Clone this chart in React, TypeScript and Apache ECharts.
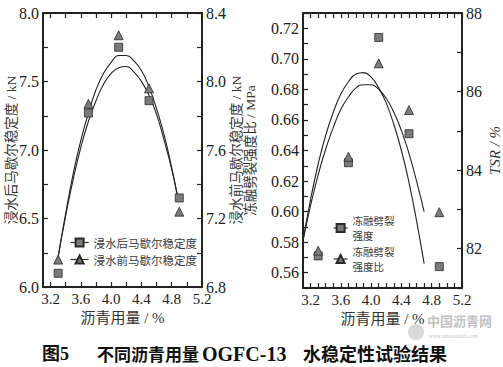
import React, { useEffect, useRef } from 'react';
import * as echarts from 'echarts';

// ---- Left panel: Marshall stability ----
const dosage = [3.3, 3.7, 4.1, 4.5, 4.9];
const stabilityAfter = [6.1, 7.27, 7.75, 7.36, 6.65]; // kN, left axis (squares)
const stabilityBefore = [6.96, 7.87, 8.27, 7.96, 7.24]; // kN, right axis (triangles)
const fitX1 = [3.3, 3.4, 3.5, 3.6, 3.7, 3.8, 3.9, 4.0, 4.1, 4.2, 4.3, 4.4, 4.5, 4.6, 4.7, 4.8, 4.87];
const fitUpper1 = [6.22, 6.54, 6.83, 7.07, 7.27, 7.44, 7.56, 7.64, 7.69, 7.69, 7.65, 7.58, 7.46, 7.3, 7.11, 6.87, 6.68];
const fitLower1 = [6.22, 6.52, 6.79, 7.02, 7.21, 7.36, 7.48, 7.56, 7.6, 7.61, 7.57, 7.5, 7.4, 7.26, 7.07, 6.86, 6.68];

// ---- Right panel: freeze-thaw splitting ----
const splitStrength = [0.571, 0.632, 0.714, 0.651, 0.564]; // MPa, left axis (squares)
const tsr = [81.95, 84.34, 86.72, 85.53, 82.93]; // %, right axis (triangles)
const fitX2 = [3.1, 3.2, 3.3, 3.4, 3.5, 3.6, 3.7, 3.8, 3.9, 4.0, 4.1, 4.2, 4.3, 4.4, 4.5, 4.6, 4.7];
const fitUpper2 = [0.581, 0.608, 0.631, 0.65, 0.665, 0.677, 0.685, 0.69, 0.691, 0.688, 0.681, 0.671, 0.657, 0.64, 0.619, 0.594, 0.566];
const fitLower2 = [0.581, 0.604, 0.624, 0.641, 0.655, 0.667, 0.675, 0.681, 0.683, 0.683, 0.68, 0.674, 0.665, 0.653, 0.638, 0.62, 0.6];

// ---- Ticks ----
const xTicksLeft = [3.2, 3.4, 3.6, 3.8, 4.0, 4.2, 4.4, 4.6, 4.8, 5.0, 5.2];
const xTicksRight = [3.2, 3.3, 3.4, 3.5, 3.6, 3.7, 3.8, 3.9, 4.0, 4.1, 4.2, 4.3, 4.4, 4.5, 4.6, 4.7, 4.8, 4.9, 5.0, 5.1, 5.2];
const xLabels = [3.2, 3.6, 4.0, 4.4, 4.8, 5.2];

const names = {
  after: '浸水后马歇尔稳定度',
  before: '浸水前马歇尔稳定度',
  strength: '冻融劈裂强度',
  ratio: '冻融劈裂强度比',
};
// legend text of the right panel is wrapped after the first four characters
const wrap = (s: string) => s.slice(0, 4) + '\n' + s.slice(4);

const ink = '#222';
const serif = '"Liberation Serif", "Times New Roman", serif';
const mixed = '"Liberation Serif", "Noto Sans CJK SC", serif';
const cjk = '"Noto Sans CJK SC", sans-serif';

const pair = (xs: number[], ys: number[]) => xs.map((x, i) => [x, ys[i]]);

function xAxisPair(gridIndex: number, ticks: number[]) {
  const base = {
    gridIndex,
    type: 'value',
    min: 3.1,
    max: 5.2,
    splitLine: { show: false },
    axisLine: { show: true, onZero: false, lineStyle: { color: ink, width: 2 } },
    axisTick: { show: true, inside: true, length: 5, customValues: ticks, lineStyle: { color: ink, width: 1.2 } },
  };
  return [
    {
      ...base,
      position: 'bottom',
      axisLabel: {
        show: true,
        customValues: xLabels,
        formatter: (v: number) => v.toFixed(1),
        fontSize: 15,
        fontFamily: serif,
        color: ink,
        margin: 4,
      },
      name: '沥青用量 / %',
      nameLocation: 'middle',
      nameGap: 23,
      nameMoveOverlap: false,
      nameTextStyle: { fontSize: 15, fontFamily: mixed, color: '#333' },
    },
    { ...base, position: 'top', axisLabel: { show: false } },
  ];
}

const yCommon = {
  type: 'value',
  splitLine: { show: false },
  axisLine: { show: true, onZero: false, lineStyle: { color: ink, width: 2 } },
  axisTick: { show: true, inside: true, length: 5, lineStyle: { color: ink, width: 1.2 } },
  nameLocation: 'middle',
  nameRotate: 90,
  nameMoveOverlap: false,
};
const yLabel = { fontSize: 16, fontFamily: serif, color: ink, margin: 4 };
const yName = { fontSize: 13.5, fontFamily: mixed, color: '#333' };

const markerStyle = { color: '#7b7b7b', borderColor: '#2a2a2a', borderWidth: 0.8 };
const legendLine = { color: '#333', width: 1.2, opacity: 1, type: 'solid' };
const legendText = { fontSize: 11.5, fontFamily: cjk, color: '#3a3a3a' };

function wrappedLegend(name: string, top: number) {
  return {
    data: [name],
    orient: 'vertical',
    left: 333,
    top,
    padding: 0,
    itemWidth: 14,
    itemHeight: 10,
    selectedMode: false,
    formatter: (n: string) => wrap(n),
    // top padding (one line) pushes the two-line block down so its first line sits on the icon
    textStyle: { ...legendText, fontSize: 10.5, lineHeight: 15, padding: [15, 0, 0, 0] },
    lineStyle: legendLine,
  };
}

export default function App() {
  const ref = useRef<HTMLDivElement>(null);
  useEffect(() => {
    if (!ref.current) return;
    const chart = echarts.init(ref.current, null, { renderer: 'svg' });
    const option: any = {
      animation: false,
      backgroundColor: '#fff',
      grid: [
        { left: 43, top: 13, width: 159, height: 274 },
        { left: 303, top: 13, width: 159, height: 275 },
      ],
      xAxis: [...xAxisPair(0, xTicksLeft), ...xAxisPair(1, xTicksRight)],
      yAxis: [
        {
          ...yCommon,
          gridIndex: 0,
          position: 'left',
          min: 6,
          max: 8,
          interval: 0.5,
          minorTick: { show: true, splitNumber: 2, length: 5, lineStyle: { color: ink, width: 1.2 } },
          axisLabel: { ...yLabel, formatter: (v: number) => v.toFixed(1) },
          name: names.after + ' / kN',
          nameGap: 25,
          nameTextStyle: yName,
        },
        {
          ...yCommon,
          gridIndex: 0,
          position: 'right',
          min: 6.8,
          max: 8.4,
          interval: 0.4,
          minorTick: { show: true, splitNumber: 2, length: 5, lineStyle: { color: ink, width: 1.2 } },
          axisLabel: { ...yLabel, formatter: (v: number) => v.toFixed(1) },
          name: names.before + ' / kN',
          nameGap: 28,
          nameTextStyle: yName,
        },
        {
          ...yCommon,
          gridIndex: 1,
          position: 'left',
          min: 0.55,
          max: 0.73,
          interval: 0.01,
          axisLabel: {
            ...yLabel,
            formatter: (v: number) => {
              const r = Math.round(v * 100);
              return r % 2 === 0 ? (r / 100).toFixed(2) : '';
            },
          },
          name: names.ratio + ' / MPa',
          nameGap: 46,
          nameTextStyle: yName,
        },
        {
          ...yCommon,
          gridIndex: 1,
          position: 'right',
          min: 81,
          max: 88,
          interval: 1,
          axisLabel: {
            ...yLabel,
            formatter: (v: number) => (Math.round(v) % 2 === 0 ? String(Math.round(v)) : ''),
          },
          name: 'TSR / %',
          nameGap: 25,
          nameTextStyle: { fontSize: 15, fontFamily: serif, fontStyle: 'italic', color: '#333' },
        },
      ],
      legend: [
        {
          data: [names.after, names.before],
          orient: 'vertical',
          left: 65,
          top: 231,
          itemWidth: 18,
          itemHeight: 10,
          itemGap: 4,
          selectedMode: false,
          textStyle: { ...legendText, lineHeight: 13 },
          lineStyle: legendLine,
        },
        wrappedLegend(names.strength, 205.5),
        wrappedLegend(names.ratio, 236.5),
      ],
      series: [
        {
          type: 'line', xAxisIndex: 0, yAxisIndex: 0, data: pair(fitX1, fitUpper1),
          showSymbol: false, symbol: 'none', smooth: true, silent: true,
          lineStyle: { color: ink, width: 1.1 }, z: 2,
        },
        {
          type: 'line', xAxisIndex: 0, yAxisIndex: 0, data: pair(fitX1, fitLower1),
          showSymbol: false, symbol: 'none', smooth: true, silent: true,
          lineStyle: { color: ink, width: 1.1 }, z: 2,
        },
        {
          name: names.after, type: 'line', xAxisIndex: 0, yAxisIndex: 0, data: pair(dosage, stabilityAfter),
          symbol: 'rect', symbolSize: 8, showSymbol: true, lineStyle: { opacity: 0 }, itemStyle: markerStyle, z: 5,
        },
        {
          name: names.before, type: 'line', xAxisIndex: 0, yAxisIndex: 1, data: pair(dosage, stabilityBefore),
          symbol: 'triangle', symbolSize: 9, showSymbol: true, lineStyle: { opacity: 0 }, itemStyle: markerStyle, z: 5,
        },
        {
          type: 'line', xAxisIndex: 2, yAxisIndex: 2, data: pair(fitX2, fitUpper2),
          showSymbol: false, symbol: 'none', smooth: true, silent: true,
          lineStyle: { color: ink, width: 1.1 }, z: 2,
        },
        {
          type: 'line', xAxisIndex: 2, yAxisIndex: 2, data: pair(fitX2, fitLower2),
          showSymbol: false, symbol: 'none', smooth: true, silent: true,
          lineStyle: { color: ink, width: 1.1 }, z: 2,
        },
        {
          name: names.strength, type: 'line', xAxisIndex: 2, yAxisIndex: 2, data: pair(dosage, splitStrength),
          symbol: 'rect', symbolSize: 8, showSymbol: true, lineStyle: { opacity: 0 }, itemStyle: markerStyle, z: 5,
        },
        {
          name: names.ratio, type: 'line', xAxisIndex: 2, yAxisIndex: 3, data: pair(dosage, tsr),
          symbol: 'triangle', symbolSize: 9, showSymbol: true, lineStyle: { opacity: 0 }, itemStyle: markerStyle, z: 5,
        },
      ],
      graphic: [
        // watermark
        { type: 'circle', shape: { cx: 416, cy: 332, r: 8 }, style: { fill: '#cfcfcf', opacity: 0.8 }, z: -1 },
        { type: 'text', left: 427, top: 314, style: { text: '中国沥青网', font: `bold 13px ${cjk}`, fill: '#c2c2c2' }, z: -1 },
        { type: 'text', left: 429, top: 333, style: { text: 'www.sinoasphalt.com', font: `5.5px ${serif}`, fill: '#c4c4c4' }, z: -1 },
        // caption
        { type: 'text', left: 42, top: 345, style: { text: '图5', font: `bold 18px ${mixed}`, fill: '#111' } },
        { type: 'text', left: 97, top: 345, style: { text: '不同沥青用量', font: `bold 17px ${cjk}`, fill: '#111' } },
        { type: 'text', left: 202, top: 344, style: { text: 'OGFC-13', font: `bold 20px ${serif}`, fill: '#111' } },
        { type: 'text', left: 303, top: 344, style: { text: '水稳定性试验结果', font: `bold 18px ${cjk}`, fill: '#111' } },
      ],
    };
    chart.setOption(option);
    return () => chart.dispose();
  }, []);
  return (
    <div
      ref={ref}
      style={{ position: 'absolute', left: 0, top: 0, width: 503, height: 367, background: '#fff' }}
    />
  );
}
